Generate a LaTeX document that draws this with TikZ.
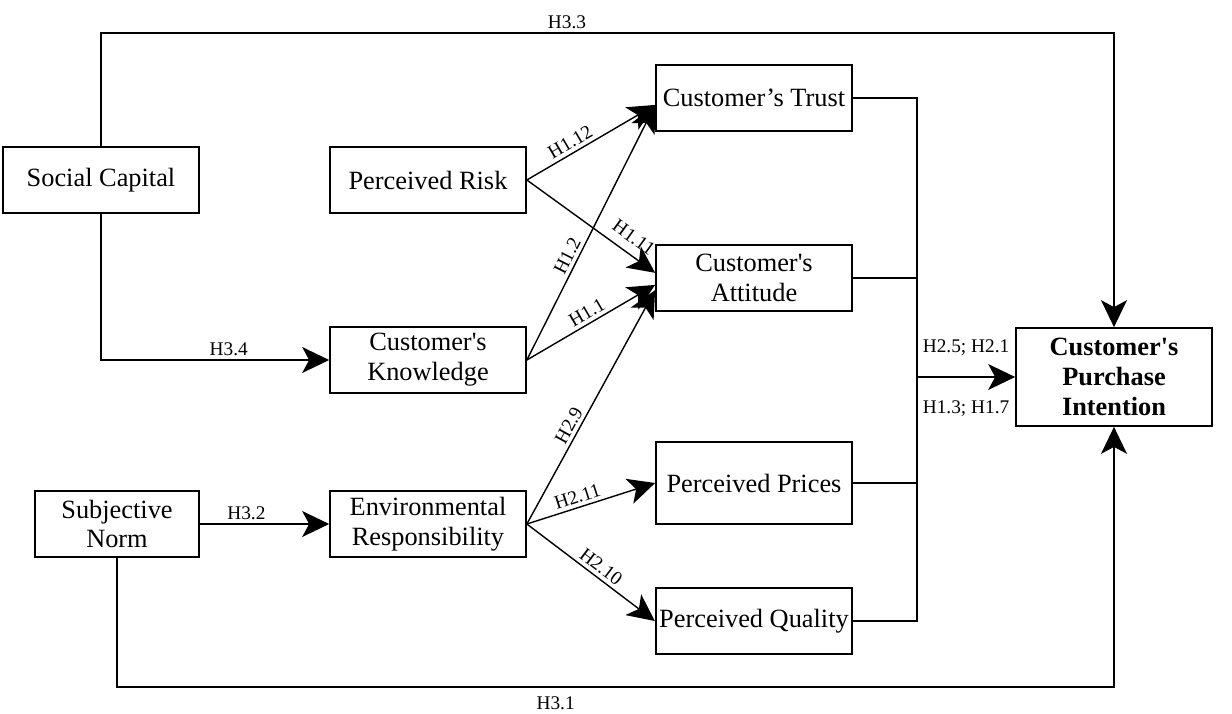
\documentclass[tikz,border=0pt]{standalone}
\usepackage{fontspec}
\setmainfont{Liberation Serif}
\usetikzlibrary{arrows.meta, positioning}

\begin{document}
\begin{tikzpicture}[x=0.02cm, y=-0.02cm,
    box/.style={draw, line width=1pt, minimum width=3.92cm, minimum height=1.32cm,
        inner sep=2pt, align=center, font=\fontsize{15}{17}\selectfont},
    link/.style={line width=0.8pt},
    arr/.style={link, -{Stealth[length=0.54cm, width=0.52cm, inset=0.14cm]}},
    hyp/.style={font=\fontsize{11}{13}\selectfont, inner sep=2pt}
]

    % =================================================================
    % FRAME
    % =================================================================
    \useasboundingbox (0,0) rectangle (1232,714);

    % =================================================================
    % CONSTRUCTS
    % =================================================================
    \node[box] (social)    at (101,180) {Social Capital};
    \node[box, minimum width=3.28cm] (subjnorm) at (117,524) {Subjective\\Norm};
    \node[box] (risk)      at (428,180) {Perceived Risk};
    \node[box] (knowledge) at (428,360) {Customer\textquotesingle s\\Knowledge};
    \node[box] (envresp)   at (428,524) {Environmental\\Responsibility};
    \node[box] (trust)     at (754,98)  {Customer’s Trust};
    \node[box] (attitude)  at (754,278) {Customer\textquotesingle s\\Attitude};
    \node[box, minimum height=1.64cm] (prices)  at (754,483) {Perceived Prices};
    \node[box] (quality)   at (754,621) {Perceived Quality};
    \node[box, minimum height=1.96cm, font=\fontsize{15}{17}\selectfont\bfseries]
        (intention) at (1114,377) {Customer\textquotesingle s\\Purchase\\Intention};

    % =================================================================
    % HYPOTHESES H1.x / H2.x
    % =================================================================
    \draw[arr] (risk.east) -- node[hyp, sloped, above, pos=0.38] {H1.12} (trust.184);
    \draw[arr] (risk.east) -- node[hyp, sloped, above=3pt, pos=0.76] {H1.11} (attitude.177);
    \draw[arr] (knowledge.east) -- node[hyp, sloped, above, pos=0.39] {H1.2} (trust.184);
    \draw[arr] (knowledge.east) -- node[hyp, sloped, above, pos=0.51] {H1.1} (attitude.184);
    \draw[arr] (envresp.east) -- node[hyp, sloped, above, pos=0.40] {H2.9} (attitude.187);
    \draw[arr] (envresp.east) -- node[hyp, sloped, above, pos=0.42] {H2.11} (prices.west);
    \draw[arr] (envresp.east) -- node[hyp, sloped, above, pos=0.53] {H2.10} (quality.west);

    % =================================================================
    % COLLECTOR BUS
    % =================================================================
    \coordinate (bustop) at (917,98);
    \coordinate (busbot) at (917,621);
    \coordinate (busout) at (917,377);
    \draw[link] (trust.east) -- (bustop) -- (busbot) -- (quality.east);
    \draw[link] (attitude.east) -- (attitude.east -| bustop);
    \draw[link] (prices.east) -- (prices.east -| bustop);
    \draw[arr] (busout) -- node[hyp, above=10pt] {H2.5; H2.1}
        node[hyp, below=11pt] {H1.3; H1.7} (intention.west);

    % =================================================================
    % HYPOTHESES H3.x
    % =================================================================
    \draw[arr] (social.north) -- (social.north |- 0,33)
        -- node[hyp, above, pos=0.46] {H3.3} (intention.north |- 0,33) -- (intention.north);
    \draw[arr] (social.south) |- node[hyp, above, pos=0.78] {H3.4} (knowledge.west);
    \draw[arr] (subjnorm.east) -- node[hyp, above, pos=0.36] {H3.2} (envresp.west);
    \draw[arr] (subjnorm.south) -- (subjnorm.south |- 0,687)
        -- node[hyp, below=3pt, pos=0.44] {H3.1} (intention.south |- 0,687) -- (intention.south);

\end{tikzpicture}
\end{document}
